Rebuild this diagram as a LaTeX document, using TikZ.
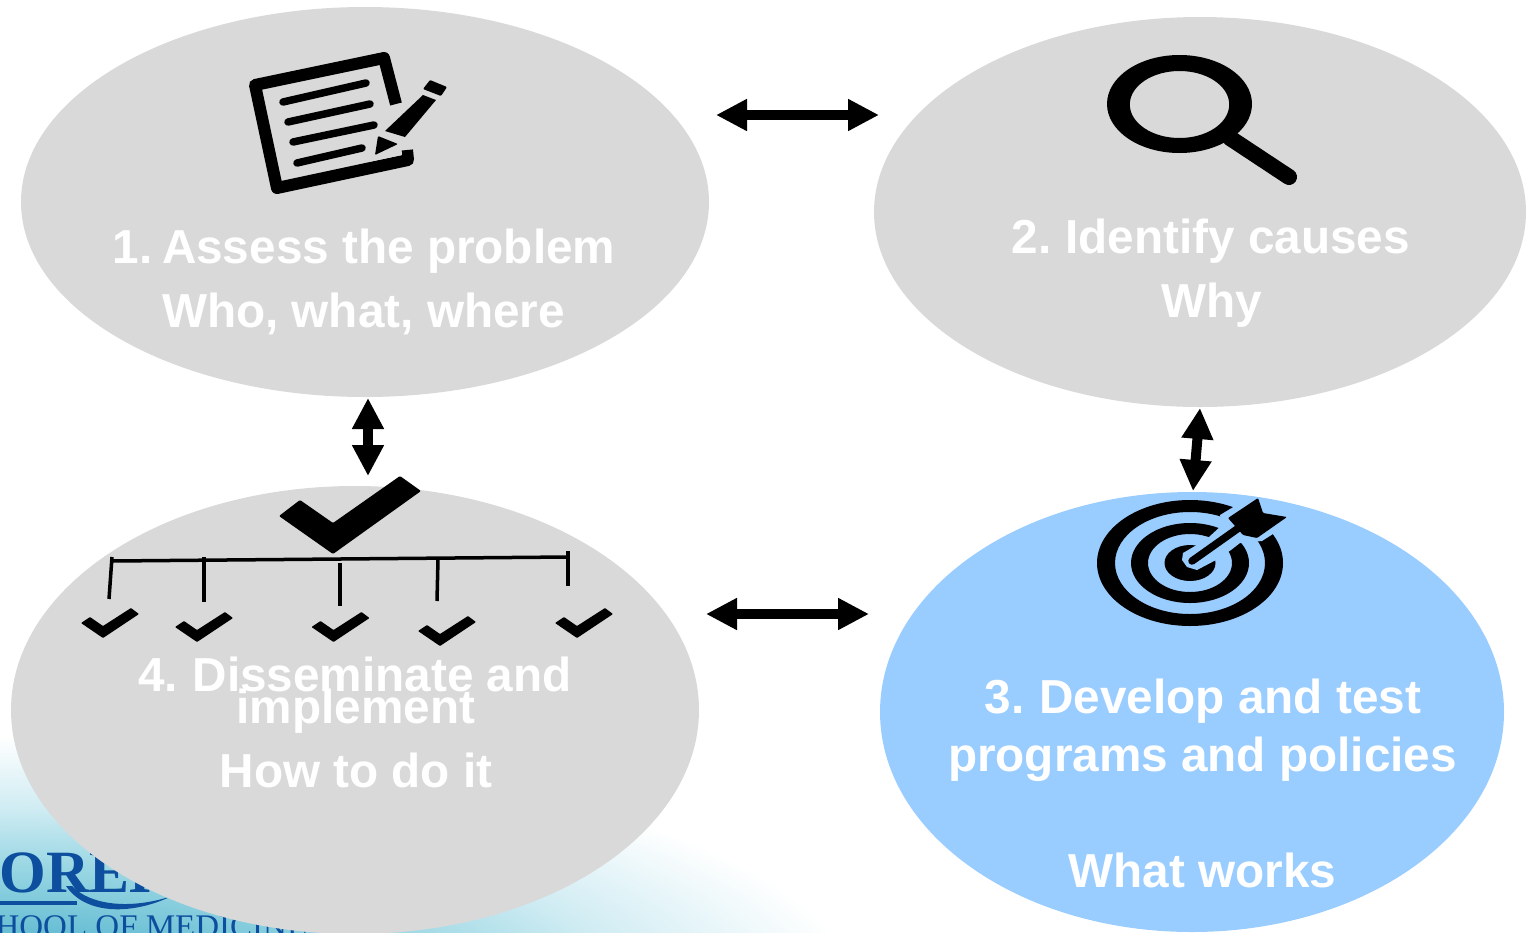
\documentclass[tikz,border=0pt]{standalone}
\usepackage{fontspec}
\setmainfont{Liberation Sans}
\newfontfamily\logofont{Liberation Serif}
\usetikzlibrary{arrows.meta,shapes.geometric}
\definecolor{graybub}{HTML}{D9D9D9}
\definecolor{bluebub}{HTML}{99CCFF}
\definecolor{logoblue}{HTML}{0D4F9E}
\definecolor{tealA}{HTML}{66BDD3}
\definecolor{tealB}{HTML}{9CD8E4}
\definecolor{tealC}{HTML}{D0ECF3}
\pgfdeclareradialshading{tealglow}{\pgfpoint{0bp}{0bp}}{color(0bp)=(tealA); color(6bp)=(tealA); color(12.5bp)=(tealB); color(17.5bp)=(tealC); color(24bp)=(white); color(50bp)=(white)}
\tikzset{
  bubble/.style={ellipse,inner sep=0pt,draw=none},
  label/.style={text=white,font=\fontsize{47.7}{48}\selectfont\bfseries,anchor=base,inner sep=0pt},
  biarrow/.style={line width=10pt,{Triangle[length=31pt,width=30pt]}-{Triangle[length=31pt,width=30pt]}},
  pen/.style={black,line width=7.5pt,line cap=round},
  frame/.style={black,line width=12pt,line join=round},
  tree/.style={black,line width=3.5pt},
}
\newcommand{\smallcheck}[2]{%
  \fill[black,rounded corners=0.8pt,shift={(#1,#2)}] (81,623)--(90,617)--(103,626)--(131,608)--(139,614)--(103,638)--cycle;}
\begin{document}
\begin{tikzpicture}[x=1pt,y=-1pt]
\useasboundingbox (0,0) rectangle (1526,932);
\clip (0,0) rectangle (1526,932);
% background glow
\path[shading=tealglow] (0,1000) ellipse (900pt and 275pt);
% logo
\node[anchor=base west,inner sep=0pt,text=logoblue,font=\logofont\bfseries\fontsize{60}{60}\selectfont] (logoa) at (-57,892) {MOREHOUSE};
\node[anchor=base west,inner sep=0pt,text=logoblue,font=\logofont\fontsize{33}{33}\selectfont] (logob) at (-45,937) {SCHOOL OF MEDICINE};
\fill[logoblue] (0,901) rectangle (77,905);
\fill[logoblue] (72,886) .. controls (90,905) and (130,910) .. (172,896) .. controls (130,916) and (85,914) .. (66,886) -- cycle;
% bubbles
\node[bubble,fill=graybub,minimum width=688pt,minimum height=390pt] (e1) at (365,202) {};
\node[bubble,fill=graybub,minimum width=652pt,minimum height=390pt] (e2) at (1200,212) {};
\node[bubble,fill=bluebub,minimum width=624pt,minimum height=440pt] (e3) at (1192,712) {};
\node[bubble,fill=graybub,minimum width=688pt,minimum height=448pt] (e4) at (355,710) {};
% connectors
\coordinate (a1l) at (716,115); \coordinate (a1r) at (879,115);
\coordinate (a2l) at (706,614); \coordinate (a2r) at (869,614);
\coordinate (a3t) at (1200,408); \coordinate (a3b) at (1193,491);
\coordinate (a4t) at (368,398); \coordinate (a4b) at (368,476);
\draw[biarrow] (a1l) -- (a1r);
\draw[biarrow] (a2l) -- (a2r);
\draw[biarrow] (a3t) -- (a3b);
\draw[biarrow] (a4t) -- (a4b);
% notepad icon
\draw[frame] (396,104) -- (384,58) -- (255,85) -- (277,188) -- (408,160) -- (407,150);
\draw[pen] (283,102) -- (366,83);
\draw[pen] (288,122) -- (370,104);
\draw[pen] (293,142) -- (374,125);
\fill[graybub] (366,140) -- (410,128) -- (401,142) -- (402,155) -- (368,162) -- cycle;
\draw[pen] (297,163) -- (362,148);
\fill[black] (385,131)--(423,95)--(436,100)--(405,137)--cycle;
\fill[black,rounded corners=1pt] (430,80)--(447,87)--(441,96)--(423,89)--cycle;
\fill[black,rounded corners=1pt] (378,136)--(398,144)--(375,155)--cycle;
% magnifier icon
\draw[black,line width=16pt,line cap=round] (1230,138) -- (1289,177);
\fill[black,even odd rule] (1179.5,104) ellipse (72.5pt and 49pt) (1179.5,104.5) ellipse (49.7pt and 33.5pt);
% target icon
\fill[black,even odd rule] (1190,563) ellipse (93pt and 63pt) (1190,563) ellipse (75pt and 51pt)
  (1190,563) ellipse (59pt and 40pt) (1190,563) ellipse (42pt and 29pt);
\fill[black] (1190,563) ellipse (25.5pt and 18pt);
\fill[bluebub] (1182,560)--(1183,553)--(1195,546)--(1209,537)--(1222,525)--(1220,515)--(1235,506)--(1280,510)--(1290,530)--(1273,534)--(1262,541)--(1240,543)--(1231,550)--(1216,560)--(1197,570)--(1187,567)--cycle;
\draw[black,line width=7.5pt,line cap=round] (1192,561) -- (1240,527);
\fill[black,rounded corners=1pt] (1228,518)--(1258,498)--(1263,513)--(1287,517)--(1257,538)--(1243,535)--cycle;
% checklist icon
\fill[black,rounded corners=1pt] (279,516)--(300,500)--(333,523)--(400,476)--(421,491)--(333,554)--cycle;
\node[coordinate] (treel) at (112,561) {};
\node[coordinate] (treer) at (568,557) {};
\draw[tree] (treel) -- (treer);
\draw[tree] (112,557) -- (109,599);
\draw[tree] (204,557) -- (204,602);
\draw[tree] (340,563) -- (340,606);
\draw[tree] (438,559) -- (437,601);
\draw[tree] (568,551) -- (568,586);
\smallcheck{0}{0}
\smallcheck{94}{4}
\smallcheck{230.5}{4}
\smallcheck{337}{8}
\smallcheck{474}{0}
% labels
\node[label] (t1a) at (364,263.5) {1.\kern-8pt{} Assess the problem};
\node[label] (t1b) at (363.5,327) {Who, what, where};
\node[label] (t2a) at (1211,253.5) {2.\kern-4pt{} Identify causes};
\node[label] (t2b) at (1211.5,317) {Why};
\node[label] (t3a) at (1203,713.5) {3.\kern-3pt{} Develop and test};
\node[label] (t3b) at (1202.5,771) {programs and policies};
\node[label] (t3c) at (1202.5,887) {What works};
\node[label] (t4a) at (355,691) {4.\kern-3pt{} Disseminate and};
\node[label] (t4b) at (356,723) {implement};
\node[label] (t4c) at (356,787) {How to do it};
\end{tikzpicture}
\end{document}
